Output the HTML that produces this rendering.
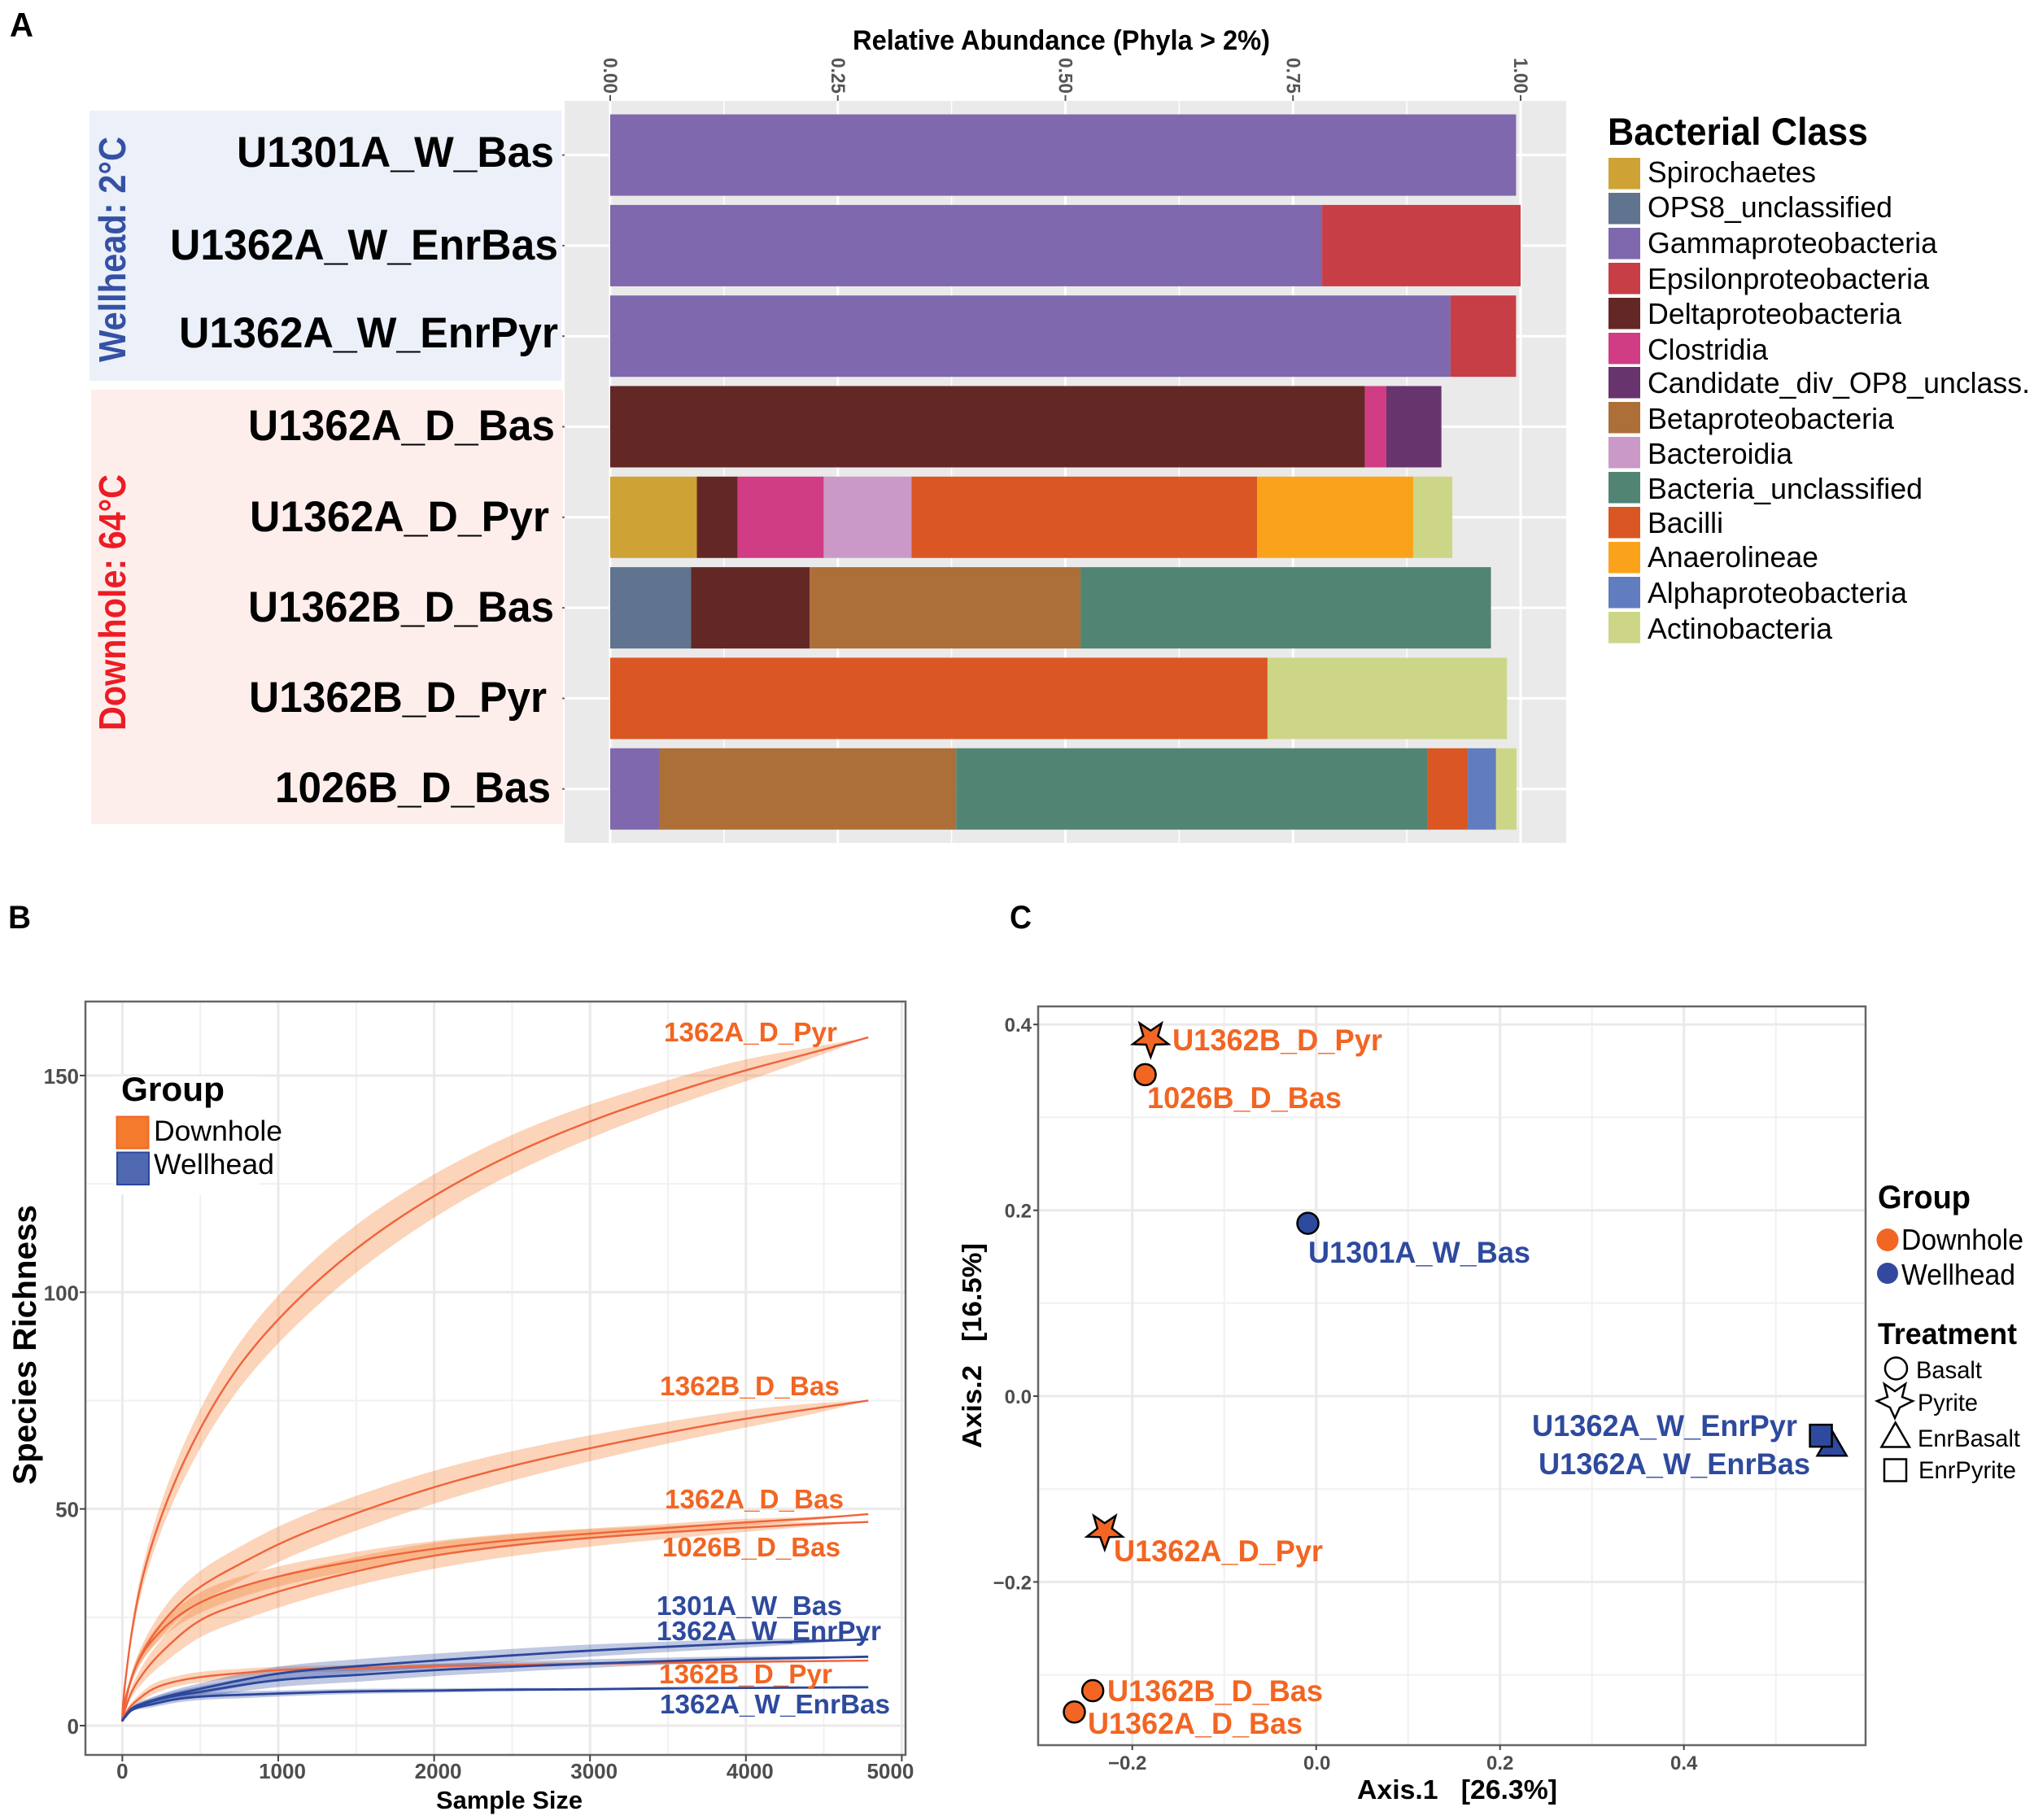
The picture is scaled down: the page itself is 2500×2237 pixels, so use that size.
<!DOCTYPE html>
<html lang="en">
<head>
<meta charset="utf-8">
<title>Bacterial community composition, rarefaction and ordination</title>
<style>
html,body{margin:0;padding:0;background:#fff}
svg{display:block}
text{font-family:"Liberation Sans",Arial,sans-serif}
.b{font-weight:bold}
.org{fill:#F26522;font-weight:bold;font-size:33px}
.blu{fill:#2E4A9E;font-weight:bold;font-size:33px}
.orgc{fill:#F26522;font-weight:bold;font-size:37px}
.bluc{fill:#2E4A9E;font-weight:bold;font-size:37px}
.sam{font-weight:bold;font-size:53px;fill:#000}
.leg{font-size:36px;fill:#000}
</style>
</head>
<body>
<svg id="figure" xmlns="http://www.w3.org/2000/svg" width="2500" height="2237" viewBox="0 0 2500 2237">
<rect x="0" y="0" width="2500" height="2237" fill="#fff"/>

<text class="b" x="12" y="45" font-size="42" textLength="29" lengthAdjust="spacingAndGlyphs">A</text>
<text class="b" x="10" y="1141" font-size="40" textLength="28" lengthAdjust="spacingAndGlyphs">B</text>
<text class="b" x="1241" y="1141" font-size="40" textLength="27" lengthAdjust="spacingAndGlyphs">C</text>

<!-- Panel A -->
<rect x="110" y="136" width="580" height="332" fill="#EBF0F9"/>
<rect x="112" y="479" width="580" height="534" fill="#FDEEEB"/>
<rect x="694" y="124" width="1231" height="912" fill="#EBEAEA"/>
<g id="a-grid"></g>
<g id="a-bars"></g>
<g id="a-ticks"></g>

<text class="b" x="1048" y="61" font-size="34" textLength="513" lengthAdjust="spacingAndGlyphs">Relative Abundance (Phyla &gt; 2%)</text>
<text class="b" transform="translate(154 445) rotate(-90)" font-size="46" fill="#3451A4" textLength="277" lengthAdjust="spacingAndGlyphs">Wellhead: 2°C</text>
<text class="b" transform="translate(154 898) rotate(-90)" font-size="46" fill="#ED1C24" textLength="315" lengthAdjust="spacingAndGlyphs">Downhole: 64°C</text>

<text class="sam" x="291" y="205" textLength="390" lengthAdjust="spacingAndGlyphs">U1301A_W_Bas</text>
<text class="sam" x="209" y="319" textLength="477" lengthAdjust="spacingAndGlyphs">U1362A_W_EnrBas</text>
<text class="sam" x="220" y="427" textLength="466" lengthAdjust="spacingAndGlyphs">U1362A_W_EnrPyr</text>
<text class="sam" x="305" y="541" textLength="377" lengthAdjust="spacingAndGlyphs">U1362A_D_Bas</text>
<text class="sam" x="307" y="653" textLength="368" lengthAdjust="spacingAndGlyphs">U1362A_D_Pyr</text>
<text class="sam" x="305" y="764" textLength="376" lengthAdjust="spacingAndGlyphs">U1362B_D_Bas</text>
<text class="sam" x="306" y="875" textLength="366" lengthAdjust="spacingAndGlyphs">U1362B_D_Pyr</text>
<text class="sam" x="338" y="986" textLength="339" lengthAdjust="spacingAndGlyphs">1026B_D_Bas</text>

<text class="b" x="1976" y="178" font-size="47" textLength="320" lengthAdjust="spacingAndGlyphs">Bacterial Class</text>
<g>
<rect x="1977" y="194" width="39" height="38.5" fill="#CFA236"/>
<rect x="1977" y="237" width="39" height="38.5" fill="#60738F"/>
<rect x="1977" y="280" width="39" height="38.5" fill="#7F68AD"/>
<rect x="1977" y="323" width="39" height="38.5" fill="#C73E47"/>
<rect x="1977" y="366" width="39" height="38.5" fill="#632825"/>
<rect x="1977" y="409" width="39" height="38.5" fill="#D03D84"/>
<rect x="1977" y="451" width="39" height="38.5" fill="#68346D"/>
<rect x="1977" y="494" width="39" height="38.5" fill="#AC6F38"/>
<rect x="1977" y="537" width="39" height="38.5" fill="#CB99C7"/>
<rect x="1977" y="580" width="39" height="38.5" fill="#528474"/>
<rect x="1977" y="623" width="39" height="38.5" fill="#DA5724"/>
<rect x="1977" y="666" width="39" height="38.5" fill="#FAA31A"/>
<rect x="1977" y="709" width="39" height="38.5" fill="#617CBF"/>
<rect x="1977" y="752" width="39" height="38.5" fill="#CDD686"/>
<text class="leg" x="2025" y="224" textLength="207" lengthAdjust="spacingAndGlyphs">Spirochaetes</text>
<text class="leg" x="2025" y="267" textLength="301" lengthAdjust="spacingAndGlyphs">OPS8_unclassified</text>
<text class="leg" x="2025" y="311" textLength="356" lengthAdjust="spacingAndGlyphs">Gammaproteobacteria</text>
<text class="leg" x="2025" y="355" textLength="346" lengthAdjust="spacingAndGlyphs">Epsilonproteobacteria</text>
<text class="leg" x="2025" y="398" textLength="312" lengthAdjust="spacingAndGlyphs">Deltaproteobacteria</text>
<text class="leg" x="2025" y="442" textLength="148" lengthAdjust="spacingAndGlyphs">Clostridia</text>
<text class="leg" x="2025" y="483" textLength="470" lengthAdjust="spacingAndGlyphs">Candidate_div_OP8_unclass.</text>
<text class="leg" x="2025" y="527" textLength="303" lengthAdjust="spacingAndGlyphs">Betaproteobacteria</text>
<text class="leg" x="2025" y="570" textLength="178" lengthAdjust="spacingAndGlyphs">Bacteroidia</text>
<text class="leg" x="2025" y="613" textLength="338" lengthAdjust="spacingAndGlyphs">Bacteria_unclassified</text>
<text class="leg" x="2025" y="655" textLength="93" lengthAdjust="spacingAndGlyphs">Bacilli</text>
<text class="leg" x="2025" y="697" textLength="210" lengthAdjust="spacingAndGlyphs">Anaerolineae</text>
<text class="leg" x="2025" y="741" textLength="319" lengthAdjust="spacingAndGlyphs">Alphaproteobacteria</text>
<text class="leg" x="2025" y="785" textLength="227" lengthAdjust="spacingAndGlyphs">Actinobacteria</text>
</g>

<!-- Panel B -->
<rect x="105" y="1231" width="1008" height="926" fill="#fff"/>
<g id="b-grid"></g>
<rect x="140" y="1323" width="178" height="145" fill="#fff"/>
<g id="b-bands"></g>
<g id="b-lines"></g>
<rect x="105" y="1231" width="1008" height="926" fill="none" stroke="#666" stroke-width="2.5"/>
<g id="b-ticks"></g>

<text class="org" x="816" y="1280" textLength="213" lengthAdjust="spacingAndGlyphs">1362A_D_Pyr</text>
<text class="org" x="811" y="1715" textLength="221" lengthAdjust="spacingAndGlyphs">1362B_D_Bas</text>
<text class="org" x="817" y="1854" textLength="220" lengthAdjust="spacingAndGlyphs">1362A_D_Bas</text>
<text class="org" x="814" y="1913" textLength="219" lengthAdjust="spacingAndGlyphs">1026B_D_Bas</text>
<text class="blu" x="807" y="1985" textLength="228" lengthAdjust="spacingAndGlyphs">1301A_W_Bas</text>
<text class="blu" x="807" y="2016" textLength="276" lengthAdjust="spacingAndGlyphs">1362A_W_EnrPyr</text>
<text class="org" x="810" y="2069" textLength="213" lengthAdjust="spacingAndGlyphs">1362B_D_Pyr</text>
<text class="blu" x="811" y="2106" textLength="283" lengthAdjust="spacingAndGlyphs">1362A_W_EnrBas</text>

<text class="b" x="149" y="1353" font-size="42" textLength="127" lengthAdjust="spacingAndGlyphs">Group</text>
<rect x="143.5" y="1372.5" width="39" height="39" fill="#F47B2E" stroke="#F26522" stroke-width="2"/>
<rect x="144" y="1416.5" width="39" height="39.5" fill="#4F68B0" stroke="#2B479B" stroke-width="2"/>
<text x="189" y="1402" font-size="35" textLength="158" lengthAdjust="spacingAndGlyphs">Downhole</text>
<text x="189" y="1443" font-size="35" textLength="148" lengthAdjust="spacingAndGlyphs">Wellhead</text>

<text class="b" x="536" y="2223" font-size="31" textLength="180" lengthAdjust="spacingAndGlyphs">Sample Size</text>
<text class="b" transform="translate(44 1825) rotate(-90)" font-size="40" textLength="344" lengthAdjust="spacingAndGlyphs">Species Richness</text>

<!-- Panel C -->
<rect x="1276" y="1237" width="1018" height="908" fill="#fff"/>
<g id="c-grid"></g>
<g id="c-points"></g>
<rect x="1276" y="1237" width="1017" height="908" fill="none" stroke="#666" stroke-width="2.5"/>
<g id="c-ticks"></g>

<text class="orgc" x="1441" y="1291" textLength="258" lengthAdjust="spacingAndGlyphs">U1362B_D_Pyr</text>
<text class="orgc" x="1410" y="1362" textLength="239" lengthAdjust="spacingAndGlyphs">1026B_D_Bas</text>
<text class="bluc" x="1608" y="1552" textLength="273" lengthAdjust="spacingAndGlyphs">U1301A_W_Bas</text>
<text class="bluc" x="1883" y="1765" textLength="326" lengthAdjust="spacingAndGlyphs">U1362A_W_EnrPyr</text>
<text class="bluc" x="1891" y="1812" textLength="334" lengthAdjust="spacingAndGlyphs">U1362A_W_EnrBas</text>
<text class="orgc" x="1369" y="1919" textLength="257" lengthAdjust="spacingAndGlyphs">U1362A_D_Pyr</text>
<text class="orgc" x="1361" y="2091" textLength="265" lengthAdjust="spacingAndGlyphs">U1362B_D_Bas</text>
<text class="orgc" x="1337" y="2131" textLength="264" lengthAdjust="spacingAndGlyphs">U1362A_D_Bas</text>

<text class="b" x="1668" y="2211" font-size="33" textLength="246" lengthAdjust="spacingAndGlyphs" xml:space="preserve">Axis.1   [26.3%]</text>
<text class="b" transform="translate(1206 1780) rotate(-90)" font-size="33" textLength="252" lengthAdjust="spacingAndGlyphs" xml:space="preserve">Axis.2   [16.5%]</text>

<text class="b" x="2308" y="1485" font-size="40" textLength="114" lengthAdjust="spacingAndGlyphs">Group</text>
<ellipse cx="2320" cy="1524" rx="13.5" ry="14" fill="#F26522"/>
<ellipse cx="2320" cy="1565" rx="13" ry="13" fill="#34499E"/>
<text x="2337" y="1536" font-size="36" textLength="150" lengthAdjust="spacingAndGlyphs">Downhole</text>
<text x="2337" y="1579" font-size="36" textLength="140" lengthAdjust="spacingAndGlyphs">Wellhead</text>
<text class="b" x="2308" y="1652" font-size="37" textLength="171" lengthAdjust="spacingAndGlyphs">Treatment</text>
<circle cx="2330.5" cy="1682" r="13.5" fill="#fff" stroke="#000" stroke-width="2.5"/>
<polygon id="legend-star" points="2329,1743 2335,1730 2351,1722 2338,1717 2342,1701 2329,1710 2316,1701 2320,1717 2307,1722 2323,1730" fill="#fff" stroke="#000" stroke-width="2.5" stroke-linejoin="miter"/>
<polygon points="2329.7,1748.5 2347,1778.5 2312.5,1778.5" fill="#fff" stroke="#000" stroke-width="2.5"/>
<rect x="2316" y="1793.5" width="27" height="27" fill="#fff" stroke="#000" stroke-width="2.5"/>
<text x="2355" y="1694" font-size="30" textLength="81" lengthAdjust="spacingAndGlyphs">Basalt</text>
<text x="2357" y="1734" font-size="30" textLength="74" lengthAdjust="spacingAndGlyphs">Pyrite</text>
<text x="2357" y="1778" font-size="30" textLength="126" lengthAdjust="spacingAndGlyphs">EnrBasalt</text>
<text x="2358" y="1817" font-size="30" textLength="120" lengthAdjust="spacingAndGlyphs">EnrPyrite</text>
</svg>

<script>
// ---------- Panel A data ----------
const sampleNames = ["U1301A_W_Bas","U1362A_W_EnrBas","U1362A_W_EnrPyr","U1362A_D_Bas","U1362A_D_Pyr","U1362B_D_Bas","U1362B_D_Pyr","1026B_D_Bas"];
const sampleClasses = [
  ["Gammaproteobacteria"],
  ["Gammaproteobacteria","Epsilonproteobacteria"],
  ["Gammaproteobacteria","Epsilonproteobacteria"],
  ["Deltaproteobacteria","Clostridia","Candidate_div_OP8"],
  ["Spirochaetes","Deltaproteobacteria","Clostridia","Bacteroidia","Bacilli","Anaerolineae","Actinobacteria"],
  ["OPS8_unclassified","Deltaproteobacteria","Betaproteobacteria","Bacteria_unclassified"],
  ["Bacilli","Actinobacteria"],
  ["Gammaproteobacteria","Betaproteobacteria","Bacteria_unclassified","Bacilli","Alphaproteobacteria","Actinobacteria"]
];
const sampleAbundance = [
  [0.995],
  [0.782,0.218],
  [0.923,0.072],
  [0.829,0.0235,0.0605],
  [0.0952,0.0448,0.0945,0.0965,0.3796,0.1714,0.043],
  [0.0889,0.1301,0.2976,0.4508],
  [0.722,0.263],
  [0.0536,0.3264,0.518,0.044,0.031,0.0225]
];
const abundanceTicks = [0,0.25,0.5,0.75,1];
const abundanceTickLabels = ["0.00","0.25","0.50","0.75","1.00"];
const abundanceMinorTicks = [0.125,0.375,0.625,0.875];

// ---------- Panel B data ----------
const sampleSizes = [0,25,50,100,200,300,500,750,1000,1500,2000,2500,3000,3500,4000,4500,4785];
const richness1362ADPyr = [1,12,19,29.5,43,53,68.5,83,93.7,110,122.2,131.8,139.4,145.7,151.2,156,158.8];
const spread1362ADPyr = [0,1,1.5,2.2,3,3.6,4.5,5.2,5.5,5.5,5,4.5,3.9,3.2,2.5,1,0];
const richness1362BDBas = [1,7,10,14.8,21,25.6,32,37.2,41.8,49,55,59.9,64,67.6,70.8,73.5,75];
const spread1362BDBas = [0,0.5,1,1.6,2.5,3.1,3.7,4,4.1,4,3.8,3.4,3,2.5,2,1,0];
const richness1362ADBas = [1,6.2,9.9,14.7,20,23.6,28.4,31.9,34.4,38,40.8,42.8,44.3,45.6,46.9,48,48.8];
const spread1362ADBas = [0,0.5,1,1.3,1.8,2,2.4,2.4,2.3,2.1,1.8,1.5,1.2,1,0.8,0.3,0];
const richness1026BDBas = [1,4.5,7,10.3,15,18.6,24.3,28,30.9,35.6,39.2,41.6,43.3,44.6,45.7,46.6,47];
const spread1026BDBas = [0,0.5,1,1.7,2.6,3.2,3.9,3.9,3.7,3.3,3,2.5,2,1.5,1,0.4,0];
const richness1362BDPyr = [1,3,4.3,6,8.5,9.8,11.2,12.1,12.8,13.3,13.7,14,14.3,14.5,14.7,14.9,15];
const spread1362BDPyr = [0,0.4,0.6,0.9,1.2,1.2,1.2,1,0.8,0.7,0.6,0.5,0.4,0.3,0.3,0.1,0];
const richness1301AWBas = [1,2.5,3.6,4.7,5.9,6.9,8.5,10.4,12,13.7,15,16.2,17.3,18.2,19,19.6,19.9];
const spread1301AWBas = [0,0.3,0.4,0.6,0.8,1,1.3,1.5,1.6,1.6,1.6,1.5,1.4,1.2,1,0.4,0];
const richness1362AWEnrPyr = [1,2.4,3.5,4.5,5.7,6.6,7.8,9.3,10.5,11.7,12.8,13.6,14.3,14.9,15.4,15.7,15.9];
const spread1362AWEnrPyr = [0,0.3,0.4,0.6,0.8,1,1.3,1.5,1.6,1.6,1.4,1.2,1,0.8,0.6,0.3,0];
const richness1362AWEnrBas = [1,2.3,3.3,4.2,5,5.8,6.7,7.1,7.4,7.9,8.1,8.3,8.4,8.6,8.7,8.8,8.85];
const spread1362AWEnrBas = [0,0.2,0.3,0.5,0.7,0.8,0.8,0.8,0.7,0.6,0.5,0.4,0.3,0.3,0.2,0.1,0];
const sizeTicks = [0,1000,2000,3000,4000,5000];
const sizeMinorTicks = [500,1500,2500,3500,4500];
const richnessTicks = [0,50,100,150];
const richnessMinorTicks = [25,75,125];

// ---------- Panel C data ----------
const ordinationNames = ["U1362B_D_Pyr","1026B_D_Bas","U1301A_W_Bas","U1362A_W_EnrBas","U1362A_W_EnrPyr","U1362A_D_Pyr","U1362B_D_Bas","U1362A_D_Bas"];
const ordinationAxis1 = [-0.18,-0.186,-0.009,0.561,0.549,-0.23,-0.243,-0.263];
const ordinationAxis2 = [0.385,0.346,0.186,-0.051,-0.0426,-0.145,-0.317,-0.34];
const ordinationGroup = ["Downhole","Downhole","Wellhead","Wellhead","Wellhead","Downhole","Downhole","Downhole"];
const ordinationTreatment = ["Pyrite","Basalt","Basalt","EnrBasalt","EnrPyrite","Pyrite","Basalt","Basalt"];
const axis1Ticks = [-0.2,0,0.2,0.4];
const axis1TickLabels = ["\u22120.2","0.0","0.2","0.4"];
const axis1MinorTicks = [-0.1,0.1,0.3,0.5];
const axis2Ticks = [-0.2,0,0.2,0.4];
const axis2TickLabels = ["\u22120.2","0.0","0.2","0.4"];
const axis2MinorTicks = [-0.3,-0.1,0.1,0.3];

// ---------- Styling lookups ----------
const classColors = {
  Spirochaetes:"#CFA236", OPS8_unclassified:"#60738F", Gammaproteobacteria:"#7F68AD", Epsilonproteobacteria:"#C73E47",
  Deltaproteobacteria:"#632825", Clostridia:"#D03D84", Candidate_div_OP8:"#68346D", Betaproteobacteria:"#AC6F38",
  Bacteroidia:"#CB99C7", Bacteria_unclassified:"#528474", Bacilli:"#DA5724", Anaerolineae:"#FAA31A",
  Alphaproteobacteria:"#617CBF", Actinobacteria:"#CDD686"
};
const groupColors = {Downhole:"#F26522", Wellhead:"#2E4A9E"};

const SVGNS = "http://www.w3.org/2000/svg";
function mk(parentId, tag, attrs){
  const el = document.createElementNS(SVGNS, tag);
  for (const k in attrs) el.setAttribute(k, attrs[k]);
  document.getElementById(parentId).appendChild(el);
  return el;
}

// ---------- Panel A axes ----------
const xA = v => 750 + 1119 * v;
const yABar = i => 140.6 + 111.3 * i;
const barH = 100;

abundanceMinorTicks.forEach(t => {
  const el = mk("a-grid","line",{x1:xA(t),x2:xA(t),y1:124,y2:1036,stroke:"#fff","stroke-width":1.5});
  
  
});
abundanceTicks.forEach((t,i) => {
  const g = mk("a-grid","line",{x1:xA(t),x2:xA(t),y1:124,y2:1036,stroke:"#fff","stroke-width":3});
  
  
  const tick = mk("a-ticks","line",{x1:xA(t),x2:xA(t),y1:117,y2:124,stroke:"#555","stroke-width":2});
  
  
  const lab = mk("a-ticks","text",{transform:"translate("+(xA(t)-8)+" 115) rotate(90)","text-anchor":"end","font-size":24,"font-weight":"bold",fill:"#555",textLength:44,lengthAdjust:"spacingAndGlyphs"});
  lab.textContent = abundanceTickLabels[i];
  
  
});
sampleNames.forEach((s,i) => {
  const yc = yABar(i) + barH/2;
  const g = mk("a-grid","line",{x1:694,x2:1925,y1:yc,y2:yc,stroke:"#fff","stroke-width":3});
  
  
  const t = mk("a-ticks","line",{x1:691,x2:694,y1:yc,y2:yc,stroke:"#666","stroke-width":2});
  
  
  let cum = 0;
  sampleAbundance[i].forEach((v,j) => {
    const cls = sampleClasses[i][j];
    const r = mk("a-bars","rect",{x:xA(cum),y:yABar(i),width:xA(cum+v)-xA(cum),height:barH,fill:classColors[cls]});
    
    
    cum += v;
  });
});

// ---------- Panel B axes ----------
const xB = v => 150.4 + 0.1916 * v;
const yB = v => 2121 - 5.327 * v;

// Natural cubic spline through the read values, in sqrt(sample size) space.
function splineSamples(ns, vs){
  const u = ns.map(Math.sqrt), n = u.length, y2 = new Array(n).fill(0), w = new Array(n).fill(0);
  for (let i=1;i<n-1;i++){
    const sig = (u[i]-u[i-1])/(u[i+1]-u[i-1]);
    const p = sig*y2[i-1]+2;
    y2[i] = (sig-1)/p;
    w[i] = (vs[i+1]-vs[i])/(u[i+1]-u[i]) - (vs[i]-vs[i-1])/(u[i]-u[i-1]);
    w[i] = (6*w[i]/(u[i+1]-u[i-1]) - sig*w[i-1])/p;
  }
  for (let i=n-2;i>=0;i--) y2[i] = y2[i]*y2[i+1]+w[i];
  const out = [];
  for (let i=0;i<n-1;i++){
    const h = u[i+1]-u[i];
    for (let k=0;k<8;k++){
      const t = u[i]+h*k/8, A = (u[i+1]-t)/h, B = (t-u[i])/h;
      const y = A*vs[i]+B*vs[i+1]+((A*A*A-A)*y2[i]+(B*B*B-B)*y2[i+1])*h*h/6;
      out.push([xB(t*t), yB(y)]);
    }
  }
  out.push([xB(ns[n-1]), yB(vs[n-1])]);
  return out;
}
function pathFrom(pts, start){
  return pts.map((p,i) => ((i===0&&start)?"M":"L")+p[0].toFixed(2)+" "+p[1].toFixed(2)).join(" ");
}

sizeMinorTicks.forEach(t => {
  const el = mk("b-grid","line",{x1:xB(t),x2:xB(t),y1:1231,y2:2157,stroke:"#F2F0F0","stroke-width":2});
  
  
});
richnessMinorTicks.forEach(t => {
  const el = mk("b-grid","line",{x1:105,x2:1113,y1:yB(t),y2:yB(t),stroke:"#F2F0F0","stroke-width":2});
  
  
});
sizeTicks.forEach(t => {
  const g = mk("b-grid","line",{x1:xB(t),x2:xB(t),y1:1231,y2:2157,stroke:"#ECE9E9","stroke-width":3});
  
  
  const tk = mk("b-ticks","line",{x1:xB(t),x2:xB(t),y1:2157,y2:2165,stroke:"#444","stroke-width":2});
  
  
  const lab = mk("b-ticks","text",{x:xB(t)+(t>0&&t<5000?5:(t===5000?-14:0)),y:2186,"text-anchor":"middle","font-size":26,"font-weight":"bold",fill:"#4d4d4d"});
  lab.textContent = String(t);
  
  
});
richnessTicks.forEach(t => {
  const g = mk("b-grid","line",{x1:105,x2:1113,y1:yB(t),y2:yB(t),stroke:"#ECE9E9","stroke-width":3});
  
  
  const tk = mk("b-ticks","line",{x1:98,x2:105,y1:yB(t),y2:yB(t),stroke:"#444","stroke-width":2});
  
  
  const lab = mk("b-ticks","text",{x:97,y:yB(t)+10,"text-anchor":"end","font-size":26,"font-weight":"bold",fill:"#4d4d4d"});
  lab.textContent = String(t);
  
  
});

const curveRichness = [richness1362ADPyr,richness1362BDBas,richness1362ADBas,richness1026BDBas,richness1362BDPyr,richness1301AWBas,richness1362AWEnrPyr,richness1362AWEnrBas];
const curveSpread = [spread1362ADPyr,spread1362BDBas,spread1362ADBas,spread1026BDBas,spread1362BDPyr,spread1301AWBas,spread1362AWEnrPyr,spread1362AWEnrBas];
const curveGroup = ["Downhole","Downhole","Downhole","Downhole","Downhole","Wellhead","Wellhead","Wellhead"];

curveRichness.forEach((vals,k) => {
  const spread = curveSpread[k];
  const upper = splineSamples(sampleSizes, vals.map((v,i) => v+spread[i]));
  const lower = splineSamples(sampleSizes, vals.map((v,i) => v-spread[i])).reverse();
  const down = curveGroup[k] === "Downhole";
  const band = mk("b-bands","path",{d:pathFrom(upper,true)+" "+pathFrom(lower,false)+" Z",fill:down?"#F47B2E":"#2E4A9E","fill-opacity":down?0.33:0.3,stroke:"none"});
  
  
});
curveRichness.forEach((vals,k) => {
  const down = curveGroup[k] === "Downhole";
  const line = mk("b-lines","path",{d:pathFrom(splineSamples(sampleSizes, vals),true),fill:"none",stroke:down?"#F0633A":"#2B479B","stroke-width":down?2.4:2.8,"stroke-linejoin":"round"});
  
  
});

// ---------- Panel C axes ----------
const xC = v => 1617.7 + 1130 * v;
const yC = v => 1716 - 1142 * v;

axis1MinorTicks.forEach(t => {
  const el = mk("c-grid","line",{x1:xC(t),x2:xC(t),y1:1237,y2:2145,stroke:"#F2F0F0","stroke-width":2});
  
  
});
axis2MinorTicks.forEach(t => {
  const el = mk("c-grid","line",{x1:1276,x2:2293,y1:yC(t),y2:yC(t),stroke:"#F2F0F0","stroke-width":2});
  
  
});
axis1Ticks.forEach((t,i) => {
  const g = mk("c-grid","line",{x1:xC(t),x2:xC(t),y1:1237,y2:2145,stroke:"#ECE9E9","stroke-width":3});
  
  
  const tk = mk("c-ticks","line",{x1:xC(t),x2:xC(t),y1:2145,y2:2151,stroke:"#444","stroke-width":2});
  
  
  const lab = mk("c-ticks","text",{x:xC(t)-(t<0?6:0)+(t===0?1:0),y:2175,"text-anchor":"middle","font-size":24,"font-weight":"bold",fill:"#4d4d4d"});
  lab.textContent = axis1TickLabels[i];
  
  
});
axis2Ticks.forEach((t,i) => {
  const g = mk("c-grid","line",{x1:1276,x2:2293,y1:yC(t),y2:yC(t),stroke:"#ECE9E9","stroke-width":3});
  
  
  const tk = mk("c-ticks","line",{x1:1270,x2:1276,y1:yC(t),y2:yC(t),stroke:"#444","stroke-width":2});
  
  
  const lab = mk("c-ticks","text",{x:1268,y:yC(t)+9,"text-anchor":"end","font-size":24,"font-weight":"bold",fill:"#4d4d4d"});
  lab.textContent = axis2TickLabels[i];
  
  
});

function starPoints(cx, cy, R, r){
  const p = [];
  for (let i=0;i<10;i++){
    const a = Math.PI/2 + i*Math.PI/5;
    const rad = i%2===0 ? R : r;
    p.push((cx+rad*Math.cos(a)).toFixed(1)+","+(cy+rad*Math.sin(a)).toFixed(1));
  }
  return p.join(" ");
}
ordinationNames.forEach((n,i) => {
  const cx = xC(ordinationAxis1[i]), cy = yC(ordinationAxis2[i]);
  const fill = groupColors[ordinationGroup[i]];
  const common = {fill:fill,stroke:"#000","stroke-width":2.5};
  const shape = ordinationTreatment[i];
  let el;
  if (shape === "Basalt") el = mk("c-points","circle",Object.assign({cx:cx,cy:cy,r:13},common));
  else if (shape === "Pyrite") el = mk("c-points","polygon",Object.assign({points:starPoints(cx,cy,23,9.5)},common));
  else if (shape === "EnrBasalt") el = mk("c-points","polygon",Object.assign({points:cx+","+(cy-16)+" "+(cx+18)+","+(cy+15)+" "+(cx-18)+","+(cy+15)},common));
  else el = mk("c-points","rect",Object.assign({x:cx-13.5,y:cy-13.5,width:27,height:27},common));
  
  
});
</script>
</body>
</html>
